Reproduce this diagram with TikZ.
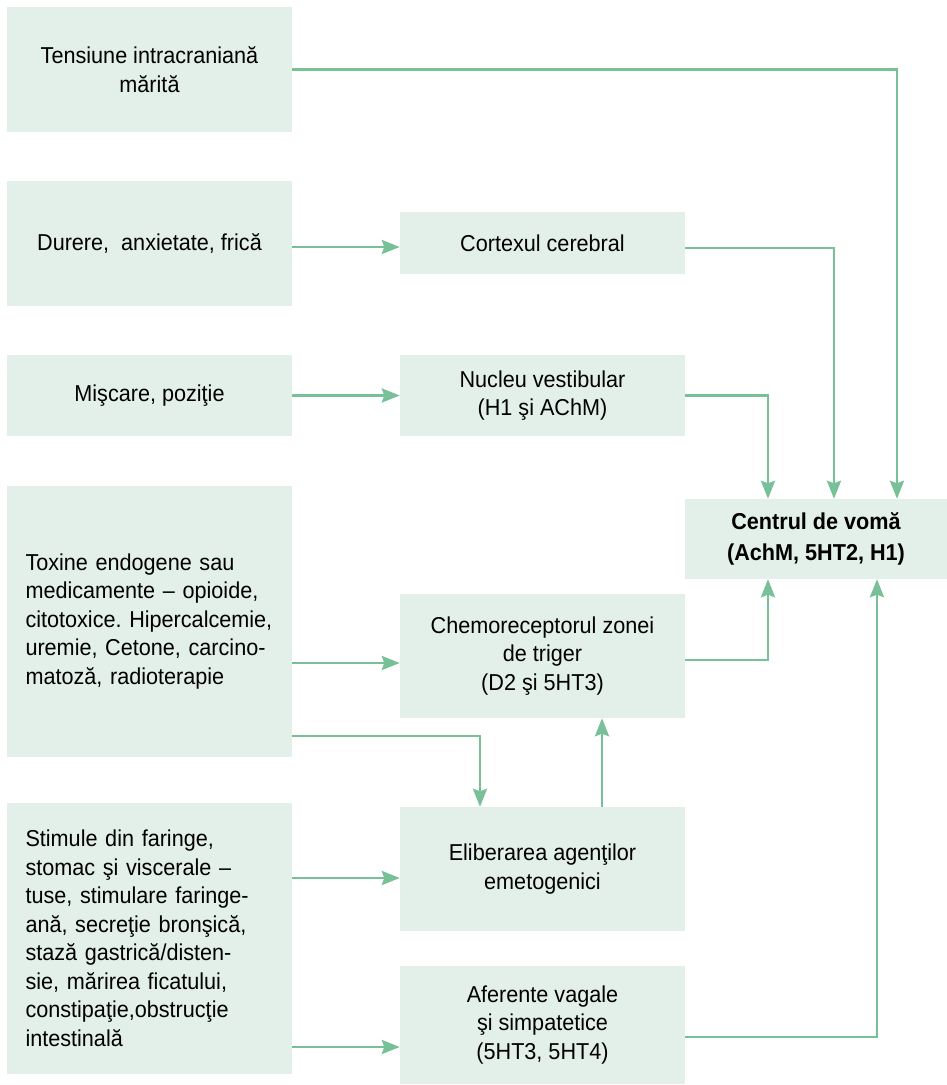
\documentclass[tikz,border=0pt]{standalone}
\usepackage{fontspec}
\setmainfont{Liberation Sans}[FakeStretch=0.94]
\usepackage{xcolor}
\usetikzlibrary{arrows.meta}
\definecolor{boxfill}{RGB}{227,240,233}
\definecolor{arrowgreen}{RGB}{120,192,152}
\frenchspacing

\begin{document}
\begin{tikzpicture}[x=1pt,y=-1pt,
    box/.style={fill=boxfill,minimum width=285pt,align=center,inner sep=0pt,
        font=\fontsize{23}{28.5}\selectfont},
    leftbox/.style={box,align=left,text width=248pt,inner xsep=18.5pt},
    arr/.style={draw=arrowgreen,line width=2.8pt,
        -{Stealth[length=18pt,width=14pt,inset=2.5pt]}}]
            \useasboundingbox (0,0) rectangle (947,1085);
            % left column
            \node[box,minimum height=125pt] (tension) at (149.5,69.5) {Tensiune intracraniană\\mărită};
            \node[box,minimum height=125pt] (pain) at (149.5,243.5) {Durere,~ anxietate, frică};
            \node[box,minimum height=81pt] (motion) at (149.5,395.5) {Mişcare, poziţie};
            \node[leftbox,minimum height=271pt] (toxins) at (149.5,621.5) {Toxine endogene sau\\medicamente – opioide,\\\mbox{citotoxice. Hipercalcemie,}\\uremie, Cetone, carcino-\\matoză, radioterapie};
            \node[leftbox,minimum height=271pt] (stimuli) at (149.5,938.5) {Stimule din faringe,\\stomac şi viscerale –\\tuse, stimulare faringe-\\ană, secreţie bronşică,\\stază gastrică/disten-\\sie, mărirea ficatului,\\constipaţie,obstrucţie\\intestinală};
            % middle column
            \node[box,minimum height=62pt] (cortex) at (542.5,243) {Cortexul cerebral};
            \node[box,minimum height=81pt] (vestib) at (542.5,395.5) {Nucleu vestibular\\(H1 şi AChM)};
            \node[box,minimum height=124pt] (ctz) at (542.5,656) {Chemoreceptorul zonei\\de triger\\(D2 şi 5HT3)};
            \node[box,minimum height=124pt] (release) at (542.5,869) {Eliberarea agenţilor\\emetogenici};
            \node[box,minimum height=118pt] (afferent) at (542.5,1025) {Aferente vagale\\şi simpatetice\\(5HT3, 5HT4)};
            % vomiting centre
            \node[box,minimum width=262pt,minimum height=80pt,
                font=\bfseries\fontsize{23}{31}\selectfont] (vomit) at (816,539) {Centrul de vomă\\(AchM, 5HT2, H1)};
            % arrows
            \draw[arr] (tension.east) -| ([xshift=81pt]vomit.north);
            \draw[arr] ([yshift=-4pt]cortex.west -| pain.east) -- ([yshift=-4pt]cortex.west);
            \draw[arr] ([yshift=-5pt]cortex.east) -| ([xshift=18pt]vomit.north);
            \draw[arr] (vestib.west -| motion.east) -- (vestib.west);
            \draw[arr] (vestib.east) -| ([xshift=-48pt]vomit.north);
            \draw[arr] ([yshift=-7pt]ctz.west -| toxins.east) -- ([yshift=-7pt]ctz.west);
            \draw[arr] ([yshift=-4pt]ctz.east) -| ([xshift=-48pt]vomit.south);
            \draw[arr] ([yshift=-114.5pt]toxins.east) -| ([xshift=-62.5pt]release.north);
            \draw[arr] ([xshift=59.5pt]release.north) -- ([xshift=59.5pt]ctz.south);
            \draw[arr] ([yshift=-9pt]release.west -| stimuli.east) -- ([yshift=-9pt]release.west);
            \draw[arr] ([yshift=-22pt]afferent.west -| stimuli.east) -- ([yshift=-22pt]afferent.west);
            \draw[arr] ([yshift=-12pt]afferent.east) -| ([xshift=61pt]vomit.south);
        \end{tikzpicture}
\end{document}
